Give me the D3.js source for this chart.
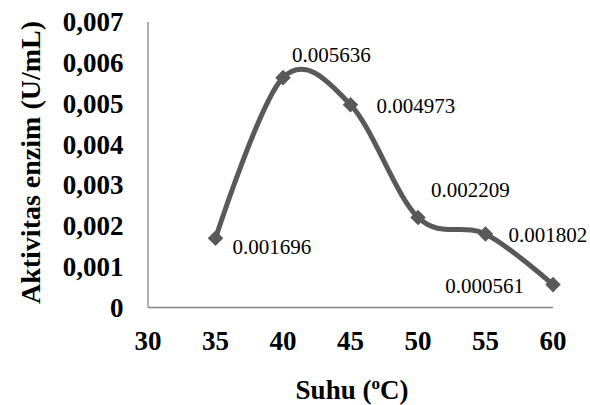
<!DOCTYPE html>
<html>
<head>
<meta charset="utf-8">
<script src="https://cdn.jsdelivr.net/npm/d3@7"></script>
<style>
  html, body { margin: 0; padding: 0; background: #fff; }
  svg { display: block; }
</style>
</head>
<body>
<svg id="chart" width="590" height="405"></svg>
<script>
// ---- data ----
const temperatures = [35, 40, 45, 50, 55, 60];
const activity = [0.001696, 0.005636, 0.004973, 0.002209, 0.001802, 0.000561];
const valueLabels = ["0.001696", "0.005636", "0.004973", "0.002209", "0.001802", "0.000561"];
const xTicks = [30, 35, 40, 45, 50, 55, 60];
const yTicks = [0, 0.001, 0.002, 0.003, 0.004, 0.005, 0.006, 0.007];
const yTickLabels = ["0", "0,001", "0,002", "0,003", "0,004", "0,005", "0,006", "0,007"];
const xTitle = "Suhu (";
const yTitle = "Aktivitas enzim (U/mL)";

(function () {
// ---- layout ----
const svg = d3.select("#chart");
const pLeft = 148, pRight = 553, pTop = 22, pBottom = 307.5;
const x = d3.scaleLinear().domain([30, 60]).range([pLeft, pRight]);
const y = d3.scaleLinear().domain([0, 0.007]).range([pBottom, pTop]);
const serif = "'Liberation Serif', 'Times New Roman', serif";
const lineColor = "#595959";

// axes lines
svg.append("line").attr("x1", pLeft).attr("x2", pLeft).attr("y1", pTop).attr("y2", pBottom)
  .attr("stroke", "#868686").attr("stroke-width", 1.3);
svg.append("line").attr("x1", pLeft).attr("x2", pRight).attr("y1", pBottom).attr("y2", pBottom)
  .attr("stroke", "#868686").attr("stroke-width", 1.3);

// y tick labels
svg.append("g").selectAll("text").data(yTicks).join("text")
  .attr("x", 123.5).attr("y", d => y(d)).attr("dy", "0.34em")
  .attr("text-anchor", "end")
  .attr("font-family", serif).attr("font-weight", "bold").attr("font-size", 27)
  .text((d, i) => yTickLabels[i]);

// x tick labels
svg.append("g").selectAll("text").data(xTicks).join("text")
  .attr("x", d => x(d)).attr("y", 350)
  .attr("text-anchor", "middle")
  .attr("font-family", serif).attr("font-weight", "bold").attr("font-size", 27)
  .text(d => d);

// titles
const xt = svg.append("text").attr("x", 352).attr("y", 399).attr("text-anchor", "middle")
  .attr("font-family", serif).attr("font-weight", "bold").attr("font-size", 27);
xt.append("tspan").text(xTitle);
xt.append("tspan").attr("font-size", 17).attr("dy", -10).text("o");
xt.append("tspan").attr("dy", 10).text("C)");

svg.append("text")
  .attr("transform", "translate(40,162.5) rotate(-90)")
  .attr("text-anchor", "middle")
  .attr("font-family", serif).attr("font-weight", "bold").attr("font-size", 28)
  .text(yTitle);

// line
const pts = temperatures.map((t, i) => [x(t), y(activity[i])]);
svg.append("path")
  .attr("d", d3.line().curve(d3.curveCatmullRom.alpha(0))(pts))
  .attr("fill", "none").attr("stroke", lineColor).attr("stroke-width", 5)
  .attr("stroke-linejoin", "round");

// markers
svg.append("g").selectAll("path").data(pts).join("path")
  .attr("transform", d => `translate(${d[0]},${d[1]}) rotate(45)`)
  .attr("d", "M-5.5,-5.5H5.5V5.5H-5.5Z")
  .attr("fill", lineColor);

// data labels
const labelOffsets = [[17, 16, "start"], [9, -16, "start"], [26, 8, "start"], [13, -20, "start"], [23, 8, "start"], [-29, 8, "end"]];
svg.append("g").selectAll("text").data(pts).join("text")
  .attr("x", (d, i) => d[0] + labelOffsets[i][0])
  .attr("y", (d, i) => d[1] + labelOffsets[i][1])
  .attr("text-anchor", (d, i) => labelOffsets[i][2])
  .attr("font-family", serif).attr("font-size", 21).attr("fill", "#000")
  .text((d, i) => valueLabels[i]);
})();
</script>
</body>
</html>
